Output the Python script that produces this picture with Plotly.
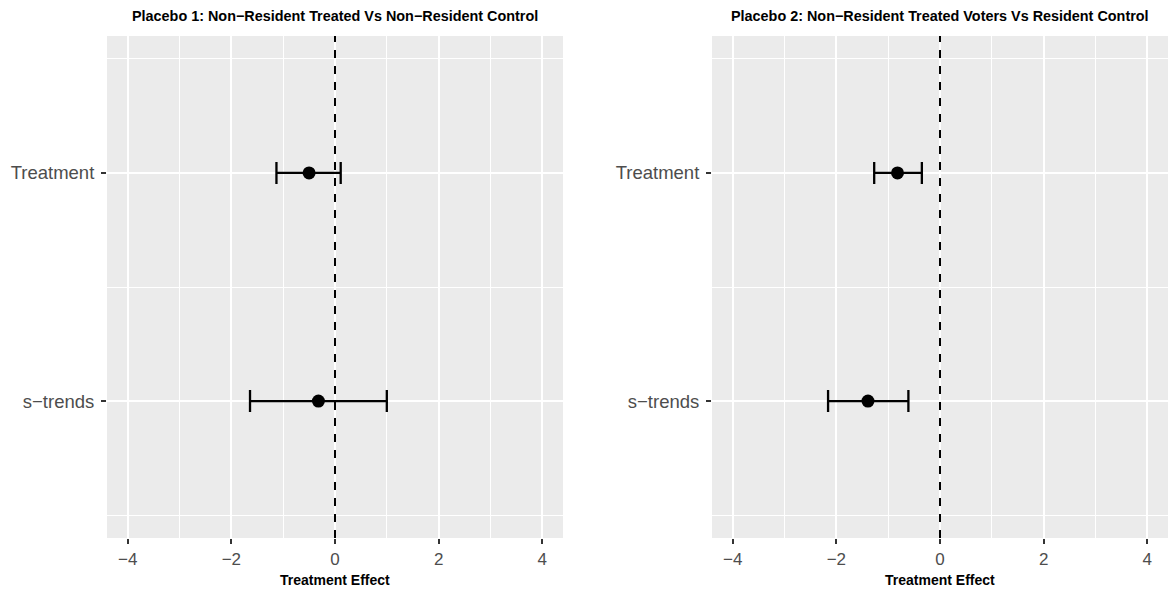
import plotly.graph_objects as go

# Estimates per panel (point, lower CI, upper CI)
categories = ["s−trends", "Treatment"]

p1_est = [-0.32, -0.50]
p1_lo = [-1.64, -1.13]
p1_hi = [1.00, 0.11]

p2_est = [-1.39, -0.82]
p2_lo = [-2.16, -1.27]
p2_hi = [-0.61, -0.35]

panel_titles = [
    "Placebo 1: Non−Resident Treated Vs Non−Resident Control",
    "Placebo 2: Non−Resident Treated Voters Vs Resident Control",
]
x_tick_vals = [-4, -2, 0, 2, 4]
x_tick_text = ["−4", "−2", "0", "2", "4"]
x_title = "Treatment Effect"

W, H = 1168, 591
PANEL_BG = "#EBEBEB"
TXT = "#4D4D4D"
FONT = "Liberation Sans, Arial, Helvetica, sans-serif"

y_pos = list(range(1, len(categories) + 1))

fig = go.Figure()

panels = [(p1_est, p1_lo, p1_hi), (p2_est, p2_lo, p2_hi)]
x_domains = [[107 / W, 563 / W], [712 / W, 1.0]]
y_domain = [1 - 538 / H, 1 - 36 / H]

for i, (est, lo, hi) in enumerate(panels):
    sfx = "" if i == 0 else str(i + 1)
    fig.add_trace(go.Scatter(
        x=est, y=y_pos, mode="markers",
        marker=dict(color="black", size=13),
        error_x=dict(type="data", symmetric=False,
                     array=[h - e for h, e in zip(hi, est)],
                     arrayminus=[e - l for e, l in zip(est, lo)],
                     color="black", thickness=2.3, width=11),
        xaxis="x" + sfx, yaxis="y" + sfx, showlegend=False,
    ))
    fig.add_shape(type="line", xref="x" + sfx, yref="y" + sfx + " domain",
                  x0=0, x1=0, y0=0, y1=1,
                  line=dict(color="black", width=2, dash="8px,8px"))
    xa = dict(domain=x_domains[i], range=[-4.4, 4.4], anchor="y" + sfx,
              tickvals=x_tick_vals, ticktext=x_tick_text,
              showgrid=True, gridcolor="white", gridwidth=2,
              minor=dict(tickvals=[-3, -1, 1, 3], showgrid=True,
                         gridcolor="white", gridwidth=1),
              zeroline=False, showline=False,
              ticks="outside", ticklen=5, tickwidth=1.5, tickcolor="#333333",
              ticklabelstandoff=1,
              tickfont=dict(size=17, color=TXT, family=FONT),
              fixedrange=True)
    ya = dict(domain=y_domain, range=[0.4, 2.6], anchor="x" + sfx,
              tickvals=y_pos, ticktext=categories,
              showgrid=True, gridcolor="white", gridwidth=2,
              minor=dict(tickvals=[0.5, 1.5, 2.5], showgrid=True,
                         gridcolor="white", gridwidth=1),
              zeroline=False, showline=False,
              ticks="outside", ticklen=5, tickwidth=1.5, tickcolor="#333333",
              ticklabelstandoff=3,
              tickfont=dict(size=18.5, color=TXT, family=FONT),
              fixedrange=True)
    fig.update_layout(**{"xaxis" + sfx: xa, "yaxis" + sfx: ya})

    cx = (x_domains[i][0] + x_domains[i][1]) / 2
    fig.add_annotation(text="<b>" + panel_titles[i] + "</b>", xref="paper", yref="paper",
                       x=cx, y=1 - 16 / H, xanchor="center", yanchor="middle",
                       showarrow=False, font=dict(size=14.4, color="black", family=FONT))
    fig.add_annotation(text="<b>" + x_title + "</b>", xref="paper", yref="paper",
                       x=cx, y=1 - 580 / H, xanchor="center", yanchor="middle",
                       showarrow=False, font=dict(size=14, color="black", family=FONT))

fig.update_layout(
    width=W, height=H,
    margin=dict(l=0, r=0, t=0, b=0),
    paper_bgcolor="white", plot_bgcolor=PANEL_BG,
    font=dict(family=FONT),
)

fig.write_html("out.html")
